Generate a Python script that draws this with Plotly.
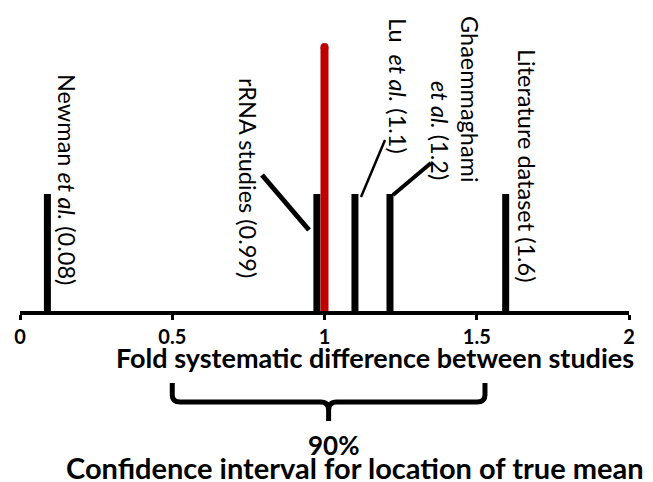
import plotly.graph_objects as go

# ---- data ----
study_labels = ["Newman <i>et al.</i> (0.08)", "rRNA studies (0.99)",
                "Lu\u00a0\u00a0<i>et al.</i> (1.1)", "Ghaemmaghami|<i>et al.</i> (1.2)",
                "Literature dataset (1.6)"]
study_x = [0.09, 0.975, 1.10, 1.215, 1.595]
study_h = [1.0, 1.0, 1.0, 1.0, 1.0]
true_mean_x = 1.0
true_mean_h = 2.256
ci_low = 0.5
ci_high = 1.527
tick_vals = [0, 0.5, 1, 1.5, 2]
tick_text = ["0", "0.5", "1", "1.5", "2"]

W, H = 653, 482
L, R, T, B = 20, 24, 0, 171
PH = H - T - B
YMAX = 2.658
FONT = "Lato"

def xd(px):
    return (px - L) / (W - L - R) * 2.0

def yd(py):
    return (T + PH - py) / PH * YMAX

def yp(py):
    return (T + PH - py) / PH

fig = go.Figure()

for x, h in zip(study_x, study_h):
    fig.add_trace(go.Scatter(x=[x, x], y=[0, h], mode="lines",
                             line=dict(color="black", width=7),
                             hoverinfo="skip", showlegend=False))

fig.add_trace(go.Scatter(x=[true_mean_x, true_mean_x], y=[0, true_mean_h], mode="lines",
                         line=dict(color="#c00000", width=8),
                         hoverinfo="skip", showlegend=False))
fig.add_trace(go.Scatter(x=[true_mean_x], y=[true_mean_h], mode="markers",
                         marker=dict(color="#c00000", size=8, line=dict(width=0)),
                         hoverinfo="skip", showlegend=False))

# rotated labels (pixel centres)
label_pos = [(67, 179), (248, 178), (398, 86), None, (527, 165)]
LS = 23.5
annotations = []
for lab, pos in zip(study_labels, label_pos):
    if pos is None:
        continue
    annotations.append(dict(text=lab, x=xd(pos[0]), y=yd(pos[1]), xref="x", yref="y",
                            textangle=90, showarrow=False, xanchor="center", yanchor="middle",
                            font=dict(family=FONT, size=LS, color="black")))
g1, g2 = study_labels[3].split("|")
annotations.append(dict(text=g1, x=xd(470), y=yd(99), xref="x", yref="y", textangle=90,
                        showarrow=False, xanchor="center", yanchor="middle",
                        font=dict(family=FONT, size=LS, color="black")))
annotations.append(dict(text=g2, x=xd(440), y=yd(130), xref="x", yref="y", textangle=90,
                        showarrow=False, xanchor="center", yanchor="middle",
                        font=dict(family=FONT, size=LS, color="black")))

# axis title and CI texts
annotations.append(dict(text="<b>Fold systematic difference between studies</b>",
                        x=xd(375), y=yp(357), xref="x", yref="paper", showarrow=False,
                        xanchor="center", yanchor="middle",
                        font=dict(family=FONT, size=27, color="black")))
annotations.append(dict(text="<b>90%</b>", x=xd(333), y=yp(445), xref="x", yref="paper",
                        showarrow=False, xanchor="center", yanchor="middle",
                        font=dict(family=FONT, size=26, color="black")))
annotations.append(dict(text="<b>Confidence interval for location of true mean</b>",
                        x=xd(355), y=yp(467.5), xref="x", yref="paper", showarrow=False,
                        xanchor="center", yanchor="middle",
                        font=dict(family=FONT, size=29, color="black")))

shapes = []
# leader lines
for (x0, y0, x1, y1, w) in [(262, 175, 309, 230, 5), (385, 140, 361, 197, 2.5),
                            (431, 163, 393, 195, 4)]:
    shapes.append(dict(type="line", xref="x", yref="y", x0=xd(x0), y0=yd(y0),
                       x1=xd(x1), y1=yd(y1), line=dict(color="black", width=w)))

# brace
xl, xr = ci_low, ci_high
xm = (xl + xr) / 2
r = xd(28) - xd(20)
top, mid, tip = yp(383), yp(402), yp(421)
c = yp(395)
cm = yp(410)
path = (f"M {xl},{top} L {xl},{c} Q {xl},{mid} {xl + r},{mid} "
        f"L {xm - r},{mid} Q {xm},{mid} {xm},{cm} L {xm},{tip} "
        f"M {xm},{cm} Q {xm},{mid} {xm + r},{mid} L {xr - r},{mid} "
        f"Q {xr},{mid} {xr},{c} L {xr},{top}")
shapes.append(dict(type="path", xref="x", yref="paper", path=path,
                   line=dict(color="black", width=5)))

fig.update_layout(
    width=W, height=H, margin=dict(l=L, r=R, t=T, b=B),
    paper_bgcolor="white", plot_bgcolor="white",
    showlegend=False, annotations=annotations, shapes=shapes,
    xaxis=dict(range=[0, 2], tickvals=tick_vals,
               ticktext=[f"<b>{t}</b>" for t in tick_text],
               showline=True, linecolor="black", linewidth=4,
               ticks="outside", ticklen=5, tickwidth=3, tickcolor="black",
               showgrid=False, zeroline=False,
               tickfont=dict(family=FONT, size=20, color="black")),
    yaxis=dict(range=[0, YMAX], visible=False, showgrid=False, zeroline=False),
)

fig.write_html("out.html", config={"displayModeBar": False},
               post_script="document.body.style.margin='0';document.body.style.overflow='hidden';")
